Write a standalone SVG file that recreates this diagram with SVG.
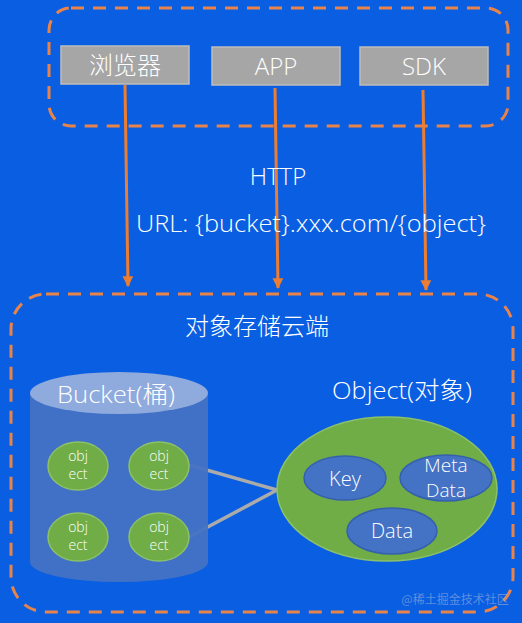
<svg xmlns="http://www.w3.org/2000/svg" width="522" height="623" viewBox="0 0 522 623">
<defs>
<style>
.dash{fill:none;stroke:#E8844A;stroke-width:3;stroke-dasharray:13 9;}
.box{fill:#A6A6A6;stroke:#BDBDBD;stroke-width:1.5;}
.lat{font-family:"Open Sans","Noto Sans","Liberation Sans",sans-serif;font-weight:300;fill:#FFFFFF;}
.cjk{font-family:"Open Sans","Noto Sans CJK SC",sans-serif;font-weight:300;fill:#FFFFFF;}
.arrow{stroke:#ED7D31;stroke-width:3;fill:none;}
.grn{fill:#70AD47;stroke:#8CC168;stroke-width:1.5;}
.blu{fill:#4472C4;stroke:#3560AE;stroke-width:1.5;}
.conn{stroke:#ABABAB;stroke-width:3.5;fill:none;}
</style>
<marker id="ah" viewBox="0 0 10 10" refX="9" refY="5" markerWidth="4" markerHeight="3.6" orient="auto" markerUnits="strokeWidth">
<path d="M0,0 L10,5 L0,10 z" fill="#ED7D31"/>
</marker>
</defs>
<rect x="0" y="0" width="522" height="623" fill="#0A5EE2"/>

<g id="clients-group">
<rect class="dash" x="49" y="8" width="459" height="118" rx="22"/>
</g>
<g id="cloud-group">
<rect class="dash" x="11" y="294" width="502" height="318" rx="35"/>
<text class="cjk" x="257" y="335" font-size="24" text-anchor="middle">对象存储云端</text>
</g>

<g id="connectors">
<line class="arrow" x1="125" y1="85" x2="128" y2="286" marker-end="url(#ah)"/>
<line class="arrow" x1="275" y1="88" x2="278" y2="288" marker-end="url(#ah)"/>
<line class="arrow" x1="423" y1="90" x2="426" y2="290" marker-end="url(#ah)"/>
<line class="conn" x1="189" y1="465" x2="277" y2="490"/>
<line class="conn" x1="189" y1="537" x2="277" y2="490"/>
</g>

<g id="browser">
<rect class="box" x="61" y="46" width="128" height="38"/>
<text class="cjk" x="125" y="74" font-size="24" text-anchor="middle">浏览器</text>
</g>
<g id="app">
<rect class="box" x="212" y="47" width="128" height="38"/>
<text class="lat" x="276" y="75" font-size="24" text-anchor="middle">APP</text>
</g>
<g id="sdk">
<rect class="box" x="360" y="47" width="128" height="38"/>
<text class="lat" x="424" y="75" font-size="24" text-anchor="middle">SDK</text>
</g>

<g id="http-label">
<text class="lat" x="278" y="185" font-size="24" text-anchor="middle">HTTP</text>
<text class="lat" x="136" y="232" font-size="24" textLength="350" lengthAdjust="spacingAndGlyphs">URL: {bucket}.xxx.com/{object}</text>
</g>

<g id="bucket">
<path d="M30,393 L30,562 A89,20 0 0 0 208,562 L208,393 Z" fill="#4472C4" fill-opacity="0.95"/>
<ellipse cx="119" cy="393" rx="89" ry="21" fill="#8FAADC"/>
<text class="cjk" x="57" y="403" font-size="24" textLength="118" lengthAdjust="spacingAndGlyphs">Bucket(桶)</text>
</g>

<g id="obj1">
<ellipse class="grn" cx="78" cy="466" rx="30" ry="24"/>
<text class="lat" x="78" y="461" font-size="14" text-anchor="middle">obj</text>
<text class="lat" x="78" y="479" font-size="14" text-anchor="middle">ect</text>
</g>
<g id="obj2">
<ellipse class="grn" cx="159" cy="466" rx="30" ry="24"/>
<text class="lat" x="159" y="461" font-size="14" text-anchor="middle">obj</text>
<text class="lat" x="159" y="479" font-size="14" text-anchor="middle">ect</text>
</g>
<g id="obj3">
<ellipse class="grn" cx="78" cy="537" rx="30" ry="24"/>
<text class="lat" x="78" y="532" font-size="14" text-anchor="middle">obj</text>
<text class="lat" x="78" y="550" font-size="14" text-anchor="middle">ect</text>
</g>
<g id="obj4">
<ellipse class="grn" cx="159" cy="537" rx="30" ry="24"/>
<text class="lat" x="159" y="532" font-size="14" text-anchor="middle">obj</text>
<text class="lat" x="159" y="550" font-size="14" text-anchor="middle">ect</text>
</g>

<g id="object">
<text class="cjk" x="332" y="399" font-size="24" textLength="140" lengthAdjust="spacingAndGlyphs">Object(对象)</text>
<ellipse class="grn" cx="387" cy="489" rx="110" ry="72"/>
</g>
<g id="key">
<ellipse class="blu" cx="345" cy="478" rx="41" ry="22"/>
<text class="lat" x="345" y="486" font-size="20" text-anchor="middle">Key</text>
</g>
<g id="meta">
<ellipse class="blu" cx="446" cy="478" rx="46" ry="23"/>
<text class="lat" x="446" y="472" font-size="19" text-anchor="middle">Meta</text>
<text class="lat" x="446" y="497" font-size="19" text-anchor="middle">Data</text>
</g>
<g id="data">
<ellipse class="blu" cx="392" cy="531" rx="45" ry="23"/>
<text class="lat" x="392" y="538" font-size="20" text-anchor="middle">Data</text>
</g>

<text x="455" y="604" font-size="12" text-anchor="middle" font-family="Noto Sans CJK SC,sans-serif" fill="#A9B9DA" fill-opacity="0.55">@稀土掘金技术社区</text>
</svg>
